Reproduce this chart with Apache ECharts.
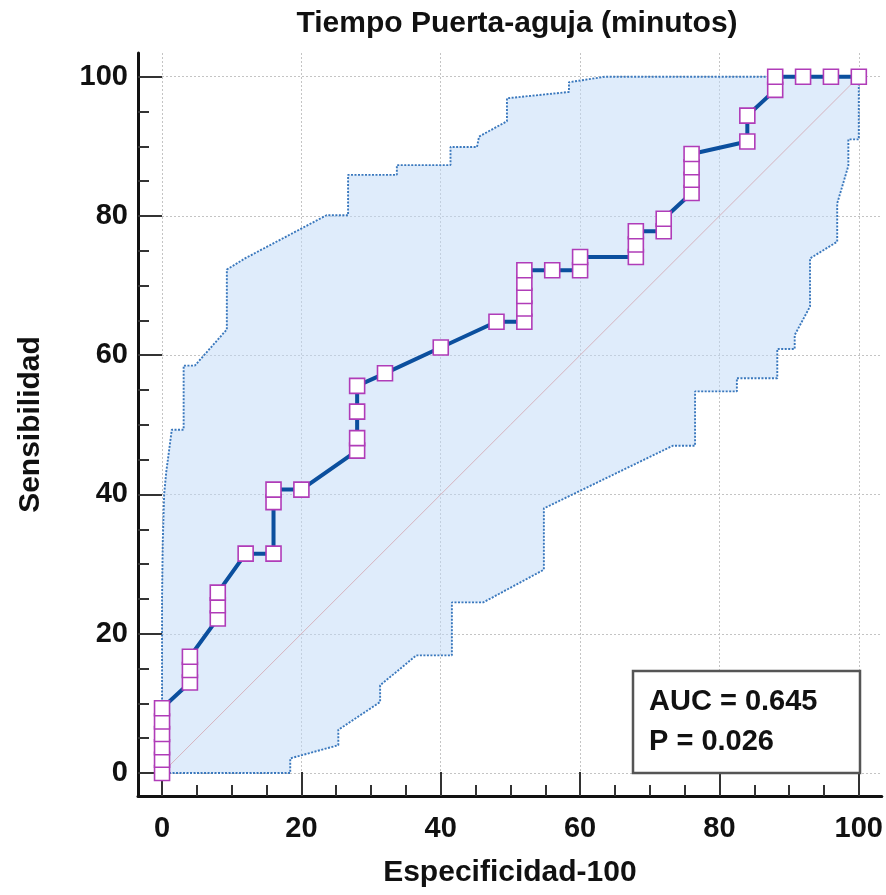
<!DOCTYPE html>
<html>
<head>
<meta charset="utf-8">
<title>Tiempo Puerta-aguja (minutos)</title>
<script src="https://cdn.jsdelivr.net/npm/echarts@6/dist/echarts.min.js"></script>
<style>
  html, body { margin: 0; padding: 0; background: #fff; }
  #chart { width: 886px; height: 895px; }
</style>
</head>
<body>
<div id="chart"></div>
<script>
// ROC curve: 100 - specificity (x) vs sensitivity (y), in %
const rocX = [0, 0, 0, 0, 0, 0, 4, 4, 4, 8, 8, 8, 12, 16, 16, 16, 20, 28, 28, 28, 28, 32, 40, 48,
  52, 52, 52, 52, 52, 56, 60, 60, 68, 68, 68, 72, 72, 76, 76, 76, 76, 84, 84, 88, 88, 92, 96, 100];
const rocY = [0, 1.9, 3.7, 5.6, 7.4, 9.3, 13.0, 14.8, 16.7, 22.2, 24.1, 25.9, 31.5, 31.5, 38.9, 40.7, 40.7,
  46.3, 48.1, 51.9, 55.6, 57.4, 61.1, 64.8, 64.8, 66.7, 68.5, 70.4, 72.2, 72.2, 72.2, 74.1, 74.1, 75.9, 77.8,
  77.8, 79.6, 83.3, 85.2, 87.0, 88.9, 90.7, 94.4, 98.1, 100, 100, 100, 100];

// confidence band, upper edge
const upperX = [0, 0, 0.1, 0.3, 0.6, 1.4, 3.1, 3.1, 4.7, 9.3, 9.3, 11.9, 23.6, 26.7, 26.7, 33.7, 33.7,
  41.4, 41.4, 45.2, 45.5, 49.5, 49.5, 58.4, 58.4, 63.6, 100];
const upperY = [0, 25, 33, 40, 43.2, 49.3, 49.3, 58.5, 58.5, 63.7, 72.3, 73.9, 80.1, 80.1, 85.9, 85.9, 87.3,
  87.3, 89.9, 89.9, 91.4, 93.6, 96.9, 97.8, 99.2, 100, 100];

// confidence band, lower edge
const lowerX = [0, 18.4, 18.4, 25.3, 25.3, 31.3, 31.3, 36.5, 41.6, 41.6, 46.1, 54.8, 54.8, 73.3, 76.5, 76.5,
  82.5, 82.5, 88.3, 88.3, 90.8, 90.8, 93.0, 93.0, 96.9, 96.9, 98.5, 98.5, 100, 100];
const lowerY = [0, 0, 2.1, 4.0, 6.2, 10.2, 12.6, 16.9, 16.9, 24.5, 24.5, 29.2, 38.0, 47.0, 47.0, 54.8,
  54.8, 56.7, 56.7, 60.9, 60.9, 62.9, 67.0, 73.9, 76.3, 81.8, 87.2, 91.0, 91.0, 100];

const diagX = [0, 100];
const diagY = [0, 100];

const majorTicks = [0, 20, 40, 60, 80, 100];
const minorTicks = [5, 10, 15, 25, 30, 35, 45, 50, 55, 65, 70, 75, 85, 90, 95];

const aucText = 'AUC = 0.645';
const pText = 'P = 0.026';

const zip = (xs, ys) => xs.map((x, i) => [x, ys[i]]);

const chartDom = document.getElementById('chart');
const myChart = echarts.init(chartDom, undefined, { renderer: 'canvas' });
const font = 'Arial, "Liberation Sans", Helvetica, sans-serif';

const gridLine = { show: true, lineStyle: { color: '#c4c4c4', width: 1, type: [2, 2] } };

const mainAxis = (min, max, name, nameGap, labelMargin) => ({
  type: 'value',
  min: min,
  max: max,
  name: name,
  nameLocation: 'middle',
  nameGap: nameGap,
  nameTextStyle: { fontFamily: font, fontWeight: 'bold', fontSize: 30, color: '#111' },
  axisLine: { show: true, onZero: false, lineStyle: { color: '#111', width: 3 } },
  axisTick: { show: true, inside: true, length: 24, customValues: majorTicks, lineStyle: { color: '#333', width: 2 } },
  axisLabel: { show: true, customValues: majorTicks, margin: labelMargin, fontFamily: font, fontWeight: 'bold', fontSize: 29, color: '#111' },
  splitLine: gridLine
});

const minorAxis = (min, max, position) => ({
  type: 'value',
  min: min,
  max: max,
  position: position,
  axisLine: { show: false, onZero: false },
  axisTick: { show: true, inside: true, length: 11, customValues: minorTicks, lineStyle: { color: '#333', width: 2 } },
  axisLabel: { show: false },
  splitLine: { show: false }
});

const option = {
  animation: false,
  backgroundColor: '#fff',
  title: {
    text: 'Tiempo Puerta-aguja (minutos)',
    left: 512,
    top: 4,
    textAlign: 'center',
    textStyle: { fontFamily: font, fontWeight: 'bold', fontSize: 30, color: '#111' }
  },
  grid: { left: 138, right: 4, top: 53, bottom: 99, containLabel: false },
  xAxis: [
    Object.assign(mainAxis(-3.45, 103.3, 'Especificidad-100', 62, 18), { position: 'bottom' }),
    minorAxis(-3.45, 103.3, 'bottom')
  ],
  yAxis: [
    Object.assign(mainAxis(-3.3, 103.4, 'Sensibilidad', 92, 10), { position: 'left' }),
    minorAxis(-3.3, 103.4, 'left')
  ],
  graphic: [
    {
      type: 'rect',
      shape: { x: 633, y: 671, width: 227, height: 102 },
      style: { fill: '#fff', stroke: '#555', lineWidth: 2.5 },
      z: 100
    },
    {
      type: 'text',
      x: 649,
      y: 687,
      style: { text: aucText, fontFamily: font, fontWeight: 'bold', fontSize: 29, fill: '#111' },
      z: 101
    },
    {
      type: 'text',
      x: 649,
      y: 727,
      style: { text: pText, fontFamily: font, fontWeight: 'bold', fontSize: 29, fill: '#111' },
      z: 101
    }
  ],
  series: [
    {
      name: 'band',
      type: 'custom',
      data: [0],
      silent: true,
      z: 1,
      renderItem: function (params, api) {
        const pts = zip(upperX, upperY).concat(zip(lowerX, lowerY).reverse()).map((p) => api.coord(p));
        return {
          type: 'polygon',
          shape: { points: pts },
          style: { fill: 'rgba(192, 217, 247, 0.5)', stroke: 'none' }
        };
      }
    },
    {
      name: 'upper',
      type: 'line',
      data: zip(upperX, upperY),
      symbol: 'none',
      silent: true,
      z: 2,
      lineStyle: { color: '#3a78bd', width: 1.9, type: [2, 1.5] }
    },
    {
      name: 'lower',
      type: 'line',
      data: zip(lowerX, lowerY),
      symbol: 'none',
      silent: true,
      z: 2,
      lineStyle: { color: '#3a78bd', width: 1.9, type: [2, 1.5] }
    },
    {
      name: 'diagonal',
      type: 'line',
      data: zip(diagX, diagY),
      symbol: 'none',
      silent: true,
      z: 3,
      lineStyle: { color: '#d6b4bf', width: 1 }
    },
    {
      name: 'ROC',
      type: 'line',
      data: zip(rocX, rocY),
      z: 5,
      symbol: 'rect',
      symbolSize: 15,
      lineStyle: { color: '#0b4f9e', width: 4 },
      itemStyle: { color: '#fff', borderColor: '#b03cb8', borderWidth: 1.6 }
    }
  ]
};

myChart.setOption(option);
window.addEventListener('resize', () => {
  myChart.resize();
});
</script>
</body>
</html>
